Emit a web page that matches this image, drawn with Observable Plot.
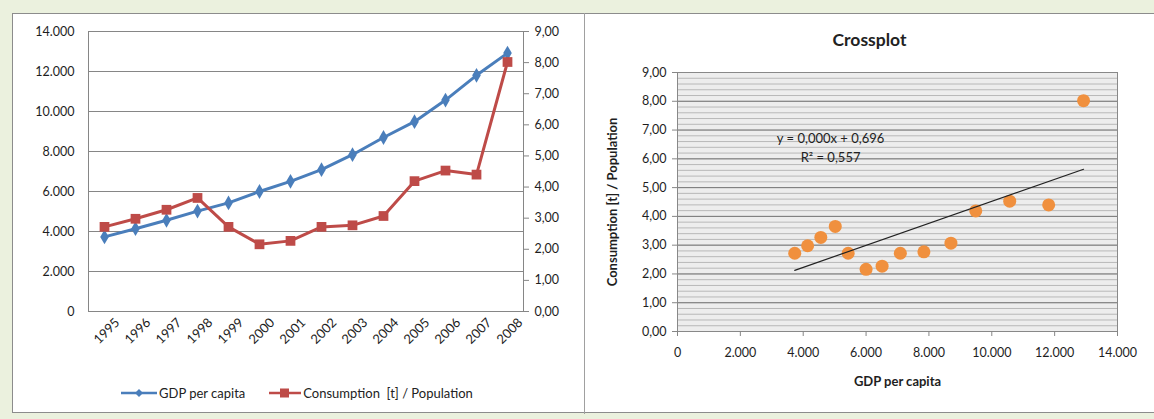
<!DOCTYPE html>
<html>
<head>
<meta charset="utf-8">
<script src="https://cdn.jsdelivr.net/npm/d3@7"></script>
<script src="https://cdn.jsdelivr.net/npm/@observablehq/plot@0.6"></script>
<style>
  html, body { margin: 0; padding: 0; background: #ebf1de; }
  #page { position: relative; width: 1154px; height: 419px; overflow: hidden; background: #ebf1de; font-family: Lato, "Open Sans", sans-serif; color: #222; }
  #panel { position: absolute; left: 12px; top: 13px; width: 1150px; height: 400px; background: #fff; border: 1px solid #8c8c8c; box-sizing: border-box; }
  #divider { position: absolute; left: 584px; top: 13px; width: 1px; height: 401px; background: #a0a0a0; }
  .abs { position: absolute; }
  #title { left: 585px; width: 569px; top: 29px; text-align: center; font-weight: bold; font-size: 17.5px; }
  #legend { left: 121px; top: 385px; display: flex; align-items: center; font-size: 13px; }
  #legend .item { display: flex; align-items: center; margin-right: 24px; }
</style>
</head>
<body>
<div id="page">
  <div id="panel"></div>
  <div id="divider"></div>
  <div id="leftBase" class="abs" style="left:12px;top:13px"></div>
  <div id="leftOver" class="abs" style="left:12px;top:13px"></div>
  <div id="legend" class="abs"></div>
  <div id="title" class="abs">Crossplot</div>
  <div id="right" class="abs" style="left:585px;top:13px"></div>
</div>
<script>
// ---- data ----
const years = [1995, 1996, 1997, 1998, 1999, 2000, 2001, 2002, 2003, 2004, 2005, 2006, 2007, 2008];
const gdpPerCapita = [3730, 4140, 4560, 5020, 5430, 6000, 6510, 7090, 7840, 8700, 9490, 10570, 11810, 12920];
const consumptionPerPop = [2.72, 2.98, 3.27, 3.65, 2.72, 2.16, 2.27, 2.72, 2.77, 3.07, 4.19, 4.53, 4.40, 8.02];
const gdpTicks = [0, 2000, 4000, 6000, 8000, 10000, 12000, 14000];
const consTicks = [0, 1, 2, 3, 4, 5, 6, 7, 8, 9];
const seriesNames = ["GDP per capita", "Consumption  [t] / Population"];
const xLabel = "GDP per capita";
const yLabel = "Consumption [t] / Population";
const trendText = ["y = 0,000x + 0,696", "R² = 0,557"];
const trendTextPos = [{gdp: 4870, cons: 6.70}, {gdp: 4870, cons: 6.04}];

const rows = years.map((year, i) => ({year, gdp: gdpPerCapita[i], cons: consumptionPerPop[i]}));

const loc = d3.formatLocale({decimal: ",", thousands: ".", grouping: [3], currency: ["", ""]});
const fmtK = loc.format(",.0f");
const fmt2 = loc.format(".2f");

const blue = "#4a7ebb", red = "#be4b48", orange = "#f0903e", grid = "#868686";
const font = {background: "transparent", fontFamily: "Lato, 'Open Sans', sans-serif", fontSize: "12.5px", color: "#1e1e1e", overflow: "visible"};

// ---- left chart (GDP, left axis) ----
const L = {width: 572, height: 358, marginLeft: 76, marginRight: 61, marginTop: 18, marginBottom: 60};
const xOpt = {type: "point", domain: years, padding: 0.5};

const leftBase = Plot.plot({
  ...L, style: font,
  x: xOpt,
  y: {domain: [0, 14000]},
  marks: [
    Plot.gridY(gdpTicks, {stroke: grid, strokeOpacity: 1}),
    Plot.frame({stroke: grid}),
    Plot.axisY(gdpTicks, {anchor: "left", tickSize: 0, tickPadding: 14, tickFormat: fmtK, label: null, fontSize: 12.5}),
    Plot.axisX(years, {anchor: "bottom", tickSize: 0, tickPadding: 9, dx: 13, tickRotate: -45, tickFormat: d => String(d), label: null, fontSize: 13}),
    Plot.line(rows, {x: "year", y: "gdp", stroke: blue, strokeWidth: 3}),
    Plot.dot(rows, {x: "year", y: "gdp", symbol: "diamond", fill: blue, r: 4.5})
  ]
});
document.getElementById("leftBase").append(leftBase);

// ---- left chart overlay (consumption, right axis) ----
const leftOver = Plot.plot({
  ...L, style: font,
  x: {...xOpt, axis: null},
  y: {domain: [0, 9]},
  marks: [
    Plot.axisY(consTicks, {anchor: "right", tickSize: 5, tickPadding: 6, tickFormat: fmt2, label: null, stroke: grid, fill: "#1e1e1e", fontSize: 12.5}),
    Plot.line(rows, {x: "year", y: "cons", stroke: red, strokeWidth: 3}),
    Plot.dot(rows, {x: "year", y: "cons", symbol: "square", fill: red, r: 5.5})
  ]
});
document.getElementById("leftOver").append(leftOver);

// ---- legend ----
const legend = document.getElementById("legend");
const markers = [
  `<svg width="36" height="12"><line x1="0" y1="6" x2="36" y2="6" stroke="${blue}" stroke-width="2.5"/><path d="M18,2 L22,6 L18,10 L14,6 Z" fill="${blue}"/></svg>`,
  `<svg width="32" height="12"><line x1="0" y1="6" x2="32" y2="6" stroke="${red}" stroke-width="2.5"/><rect x="11" y="1.5" width="9" height="9" fill="${red}"/></svg>`
];
seriesNames.forEach((name, i) => {
  const item = document.createElement("div");
  item.className = "item";
  item.innerHTML = markers[i];
  const span = document.createElement("span");
  span.style.marginLeft = "2px";
  span.style.whiteSpace = "pre";
  span.textContent = name;
  item.append(span);
  legend.append(item);
});

// ---- crossplot ----
const right = Plot.plot({
  width: 569, height: 401, marginLeft: 92, marginRight: 37, marginTop: 59, marginBottom: 83,
  style: font,
  x: {domain: [0, 14000]},
  y: {domain: [0, 9]},
  marks: [
    Plot.frame({fill: "#ededed"}),
    Plot.gridY({ticks: 45, stroke: "#b8b8b8", strokeOpacity: 1, strokeWidth: 1}),
    Plot.gridY(consTicks, {stroke: "#7a7a7a", strokeOpacity: 1}),
    Plot.frame({stroke: "#888"}),
    Plot.axisY(consTicks, {anchor: "left", tickSize: 5, tickPadding: 6, tickFormat: fmt2, label: null, stroke: grid, fill: "#1e1e1e", fontSize: 12.5}),
    Plot.axisX(gdpTicks, {anchor: "bottom", tickSize: 5, tickPadding: 12, tickFormat: fmtK, label: null, stroke: grid, fill: "#1e1e1e", fontSize: 12.5}),
    Plot.text([xLabel], {frameAnchor: "bottom", dy: 54, text: d => d, fontWeight: "bold", fontSize: 13}),
    Plot.text([yLabel], {frameAnchor: "left", dx: -65, rotate: -90, textAnchor: "middle", text: d => d, fontWeight: "bold", fontSize: 13}),
    Plot.dot(rows, {x: "gdp", y: "cons", r: 6.5, fill: orange}),
    Plot.linearRegressionY(rows, {x: "gdp", y: "cons", ci: 0, stroke: "#222", strokeWidth: 1.2}),
    Plot.text(trendText, {x: (d, i) => trendTextPos[i].gdp, y: (d, i) => trendTextPos[i].cons, text: d => d, fontSize: 13, fill: "#222"})
  ]
});
document.getElementById("right").append(right);
</script>
</body>
</html>
